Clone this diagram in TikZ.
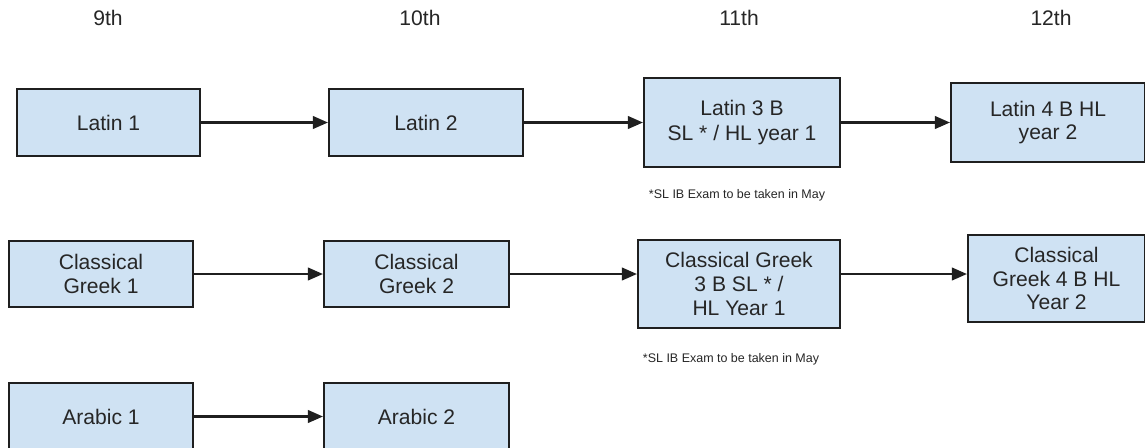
\documentclass[tikz,border=0pt]{standalone}
\usepackage{fontspec}
\setmainfont{Liberation Sans}
\usetikzlibrary{arrows.meta,positioning}
\definecolor{boxfill}{HTML}{CFE2F3}
\definecolor{boxline}{HTML}{1F1F1F}
\definecolor{inktext}{HTML}{262626}

\begin{document}
\begin{tikzpicture}[x=0.02cm, y=-0.02cm,
  course/.style={rectangle, draw=boxline, line width=1.2pt, fill=boxfill, align=center, text=inktext, font=\fontsize{12}{13.5}\selectfont, inner sep=2pt},
  grade/.style={font=\fontsize{12}{14}\selectfont, text=inktext},
  note/.style={font=\fontsize{7.1}{8}\selectfont, text=inktext},
  arr/.style={-{Triangle[length=3mm, width=2.5mm]}, line width=1.3pt, boxline}
]
  \useasboundingbox (0,0) rectangle (1145,447);

  % grade headers
  \node[grade] (g9)  at (108,18)  {9th};
  \node[grade] (g10) at (420,18)  {10th};
  \node[grade] (g11) at (739,18)  {11th};
  \node[grade] (g12) at (1051,18) {12th};

  % Latin row
  \node[course, minimum width=3.66cm, minimum height=1.34cm] (lat1) at (108.5,122.5) {Latin 1};
  \node[course, minimum width=3.88cm, minimum height=1.34cm] (lat2) at (426,122.5) {Latin 2};
  \node[course, minimum width=3.92cm, minimum height=1.78cm, font=\fontsize{12}{14.5}\selectfont] (lat3) at (742,122.5) {Latin 3 B\\SL * / HL year 1};
  \node[course, minimum width=3.88cm, minimum height=1.58cm] (lat4) at (1048,122.5) {Latin 4 B HL\\year 2};
  \node[note] (lat3note) at (737,195) {*SL IB Exam to be taken in May};

  \draw[arr] (lat1) -- (lat2);
  \draw[arr] (lat2) -- (lat3);
  \draw[arr] (lat3) -- (lat4);

  % Classical Greek row
  \node[course, minimum width=3.68cm, minimum height=1.32cm] (grk1) at (101,274) {Classical\\Greek 1};
  \node[course, minimum width=3.7cm, minimum height=1.32cm] (grk2) at (416.5,274) {Classical\\Greek 2};
  \node[course, minimum width=4.04cm, minimum height=1.76cm] (grk3) at (739,284) {Classical Greek\\3 B SL * /\\HL Year 1};
  \node[course, minimum width=3.54cm, minimum height=1.74cm] (grk4) at (1056.5,278.5) {Classical\\Greek 4 B HL\\Year 2};
  \node[note] (grk3note) at (731,359) {*SL IB Exam to be taken in May};

  \draw[arr] (grk1) -- (grk2);
  \draw[arr] (grk2) -- (grk3.west |- grk2);
  \draw[arr] (grk3.east |- grk2) -- (grk4.west |- grk2);

  % Arabic row
  \node[course, minimum width=3.68cm, minimum height=1.34cm] (ara1) at (101,416.5) {Arabic 1};
  \node[course, minimum width=3.7cm, minimum height=1.34cm] (ara2) at (416.5,416.5) {Arabic 2};

  \draw[arr] (ara1) -- (ara2);
\end{tikzpicture}
\end{document}
